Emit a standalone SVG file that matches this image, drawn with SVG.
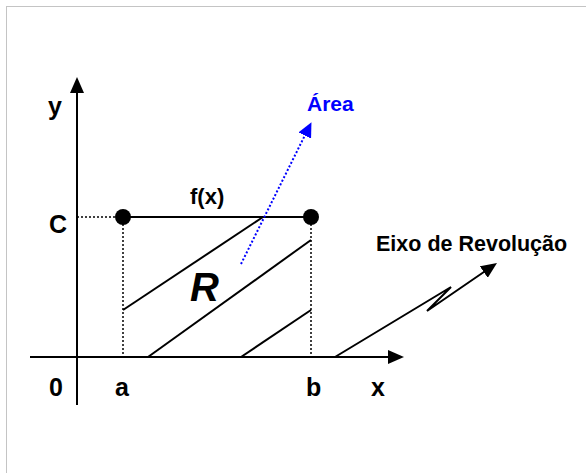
<svg xmlns="http://www.w3.org/2000/svg" width="586" height="473" viewBox="0 0 586 473">
  <defs>
    <style>
      .lbl { font-family: "Liberation Sans", Arial, sans-serif; font-weight: bold; fill: #000; }
      .ln { stroke: #000; stroke-width: 2; fill: none; }
      .dot { stroke: #000; stroke-width: 1.5; stroke-dasharray: 2 2; fill: none; }
    </style>
    <marker id="arr" markerUnits="userSpaceOnUse" viewBox="0 0 16 14" refX="8" refY="7" markerWidth="16" markerHeight="14" orient="auto">
      <path d="M0,0 L16,7 L0,14 Z" fill="#000"/>
    </marker>
    <marker id="arrBlue" markerUnits="userSpaceOnUse" viewBox="0 0 15 14" refX="7" refY="7" markerWidth="15" markerHeight="14" orient="auto">
      <path d="M0,0 L15,7 L0,14 Z" fill="#0000ff"/>
    </marker>
  </defs>
  <rect x="0" y="0" width="586" height="473" fill="#fff"/>
  <rect x="6.5" y="6.5" width="620" height="520" fill="none" stroke="#888" stroke-width="1" stroke-dasharray="1 1"/>

  <g id="connectors">
    <line id="y-axis" class="ln" x1="77" y1="405" x2="77" y2="85" marker-end="url(#arr)"/>
    <line id="x-axis" class="ln" x1="30" y1="357" x2="396" y2="357" marker-end="url(#arr)"/>
    <line class="dot" x1="77" y1="217" x2="116" y2="217"/>
    <line class="dot" x1="123" y1="224" x2="123" y2="357"/>
    <line class="dot" x1="311" y1="224" x2="311" y2="357"/>
    <line id="fx" class="ln" x1="123" y1="217" x2="311" y2="217"/>
    <line class="ln" x1="123" y1="310" x2="263" y2="217"/>
    <line class="ln" x1="148" y1="357" x2="311" y2="240"/>
    <line class="ln" x1="241" y1="357" x2="311" y2="310"/>
    <path id="eixo-arrow" class="ln" d="M335,357 L451,287 L427,311 L490.4,267.5" marker-end="url(#arr)"/>
    <line id="area-arrow" x1="241" y1="264" x2="307.9" y2="129.3" stroke="#0000ff" stroke-width="2" stroke-dasharray="2 2" marker-end="url(#arrBlue)"/>
  </g>

  <g id="point-a">
    <circle cx="123" cy="217" r="8" fill="#000"/>
  </g>
  <g id="point-b">
    <circle cx="311" cy="217" r="8" fill="#000"/>
  </g>

  <g id="labels">
    <text class="lbl" x="48" y="115" font-size="25">y</text>
    <text class="lbl" x="49" y="233" font-size="25">C</text>
    <text class="lbl" x="49" y="396" font-size="25">0</text>
    <text class="lbl" x="115" y="396" font-size="25">a</text>
    <text class="lbl" x="306" y="396" font-size="25">b</text>
    <text class="lbl" x="371" y="396" font-size="25">x</text>
    <text class="lbl" x="190" y="204" font-size="22">f(x)</text>
    <text class="lbl" x="307" y="111" font-size="21" style="fill:#0000ff">Área</text>
    <text class="lbl" x="376" y="251" font-size="21.5">Eixo de Revolução</text>
    <text class="lbl" x="190" y="301" font-size="40" font-style="italic">R</text>
  </g>
</svg>
